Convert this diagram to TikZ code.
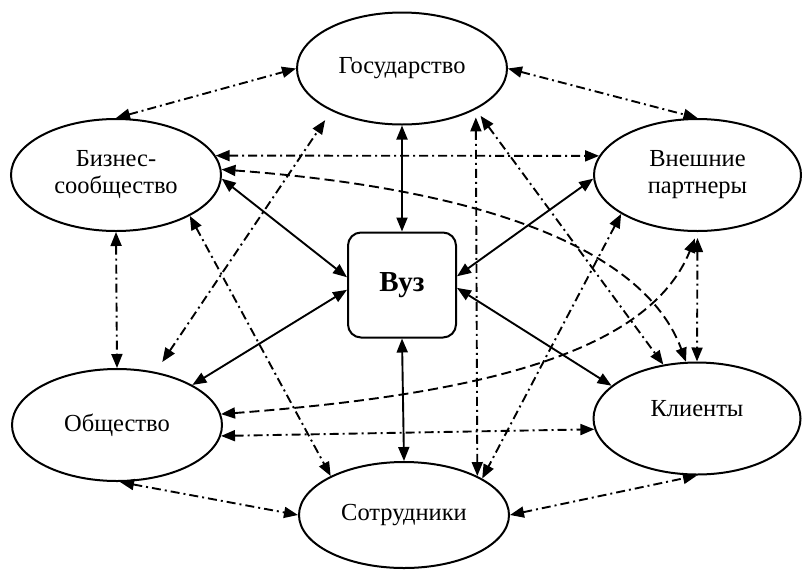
\documentclass[tikz,border=0pt]{standalone}
\usepackage{fontspec}
\setmainfont{Liberation Serif}
\usetikzlibrary{arrows.meta,shapes.geometric}

\tikzset{
  ent/.style={ellipse, draw, line width=2pt, minimum width=210pt,
    minimum height=112pt, inner sep=0pt, align=center,
    font=\fontsize{24.5}{27}\selectfont},
  hub/.style={rectangle, rounded corners=13pt, draw, line width=2pt,
    minimum width=108pt, minimum height=105pt,
    font=\fontsize{29}{32}\selectfont\bfseries},
  link/.style={line width=1.9pt, {Triangle[length=14pt,width=11pt]}-{Triangle[length=14pt,width=11pt]}},
  dashdot/.style={link, dash pattern=on 9pt off 4pt on 2pt off 4pt},
  dashlink/.style={link, dash pattern=on 10pt off 5pt},
}

\begin{document}
\begin{tikzpicture}[x=1pt,y=-1pt]
  \useasboundingbox (0,0) rectangle (802,571);

  % participants
  \node[hub] (vuz) at (402,285) {Вуз};
  \node[ent] (gov) at (402,68.5) {Государство};
  \node[ent] (biz) at (116,175) {Бизнес-\\сообщество};
  \node[ent, minimum width=207pt] (ext) at (697.5,175) {Внешние\\партнеры};
  \node[ent] (obs) at (117,425) {Общество};
  \node[ent, minimum width=207pt, text depth=20pt] (cli) at (697,418.5) {Клиенты};
  \node[ent, minimum height=106pt] (sot) at (404,515) {Сотрудники};

  % direct links with the university
  \draw[link] (gov.south) -- (vuz.north);
  \draw[link] (vuz.south) -- (sot.north);
  \draw[link] (biz.-2) -- (vuz.172);
  \draw[link] (ext.182) -- (vuz.9);
  \draw[link] (obs.28) -- (vuz.185);
  \draw[link] (cli.159) -- (vuz.357);

  % links around the ring
  \draw[dashdot] (biz.north) -- (gov.west);
  \draw[dashdot] (gov.east) -- (ext.north);
  \draw[dashdot] (biz.south) -- (obs.north);
  \draw[dashdot, shorten <=6pt] (ext.south) -- (cli.north);
  \draw[dashdot] (obs.273) -- (sot.west);
  \draw[dashdot] (sot.east) -- (cli.south);

  % cross links
  \draw[dashdot] (biz.11) -- (ext.169);
  \draw[dashdot] (obs.354) -- (cli.186);
  \draw[dashdot, shorten <=12pt, shorten >=11pt] (obs.54) -- (gov.211);
  \draw[dashdot] (biz.331) -- (sot.152);
  \draw[dashdot, shorten <=8pt] (gov.331) -- (sot.28);
  \draw[dashdot, shorten <=8pt] (gov.331) -- (cli.122);
  \draw[dashdot] (ext.207) -- (sot.25);

  % curved links
  \draw[dashlink] (biz.3) .. controls (473,188) and (643,245) .. (cli.101);
  \draw[dashlink, shorten >=7pt] (obs.6) .. controls (473,395) and (648,355) .. (ext.south);
\end{tikzpicture}
\end{document}
